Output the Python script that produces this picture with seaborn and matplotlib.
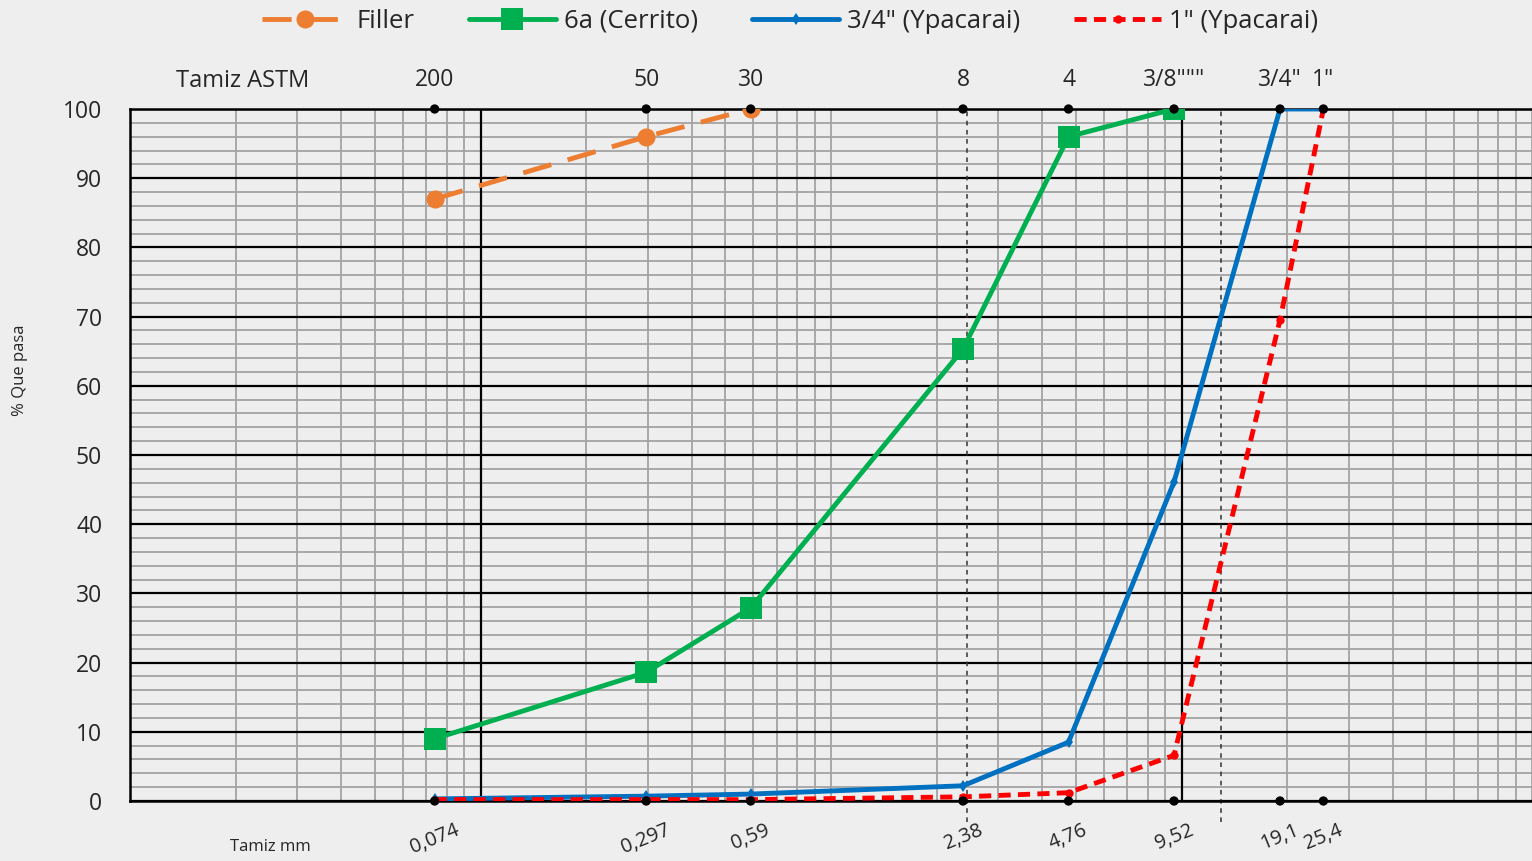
import numpy as np
import pandas as pd
import seaborn as sns
import matplotlib.pyplot as plt
from matplotlib.ticker import MultipleLocator, NullFormatter, LogLocator

# datos
tamiz_mm = [0.074, 0.297, 0.59, 2.38, 4.76, 9.52, 19.1, 25.4]
tamiz_mm_txt = ["0,074", "0,297", "0,59", "2,38", "4,76", "9,52", "19,1", "25,4"]
tamiz_astm = ["200", "50", "30", "8", "4", '3/8"""', '3/4"', '1"']

filler_mm = [0.074, 0.297, 0.59]
filler = [87, 96, 100]
cerrito_mm = [0.074, 0.297, 0.59, 2.38, 4.76, 9.52]
cerrito = [9.0, 18.6, 27.9, 65.3, 96.0, 100]
ypa34 = [0.3, 0.7, 1.0, 2.2, 8.5, 46.1, 100, 100]
ypa1 = [0.2, 0.2, 0.2, 0.6, 1.2, 6.6, 69.5, 100]

bg = "#eeeeee"
sns.set_theme(style="white", rc={"figure.facecolor": bg, "axes.facecolor": bg})
plt.rcParams["font.family"] = ["Open Sans", "DejaVu Sans"]

fig = plt.figure(figsize=(15.32, 8.61), dpi=100)
ax = fig.add_axes([130 / 1532, 60 / 861, 1 - 130 / 1532, 692 / 861])

ax.set_xscale("log")
ax.set_xlim(0.01, 100)
ax.set_ylim(0, 100)

# rejilla
ax.yaxis.set_major_locator(MultipleLocator(10))
ax.yaxis.set_minor_locator(MultipleLocator(2))
ax.xaxis.set_minor_locator(LogLocator(base=10, subs=np.arange(1, 10), numticks=50))
ax.xaxis.set_minor_formatter(NullFormatter())
ax.grid(which="minor", color="#a3a3a3", lw=1.3)
ax.grid(which="major", axis="y", color="black", lw=1.6)
ax.grid(which="major", axis="x", visible=False)
ax.set_axisbelow(True)
for v in [0.1, 10]:
    ax.axvline(v, color="black", lw=1.6, zorder=1)
ax.vlines([2.45, 13.0], -3, 100, colors="#333333", linestyles=(0, (3, 3)),
          lw=1.1, clip_on=False, zorder=1)

sns.lineplot(x=filler_mm, y=filler, ax=ax, color="#ED7D31", lw=3.5,
             linestyle=(0, (6, 3.5)), marker="o", markersize=13,
             markeredgewidth=0, label="Filler", zorder=3)
sns.lineplot(x=cerrito_mm, y=cerrito, ax=ax, color="#00B050", lw=3.5,
             marker="s", markersize=16, markeredgewidth=0,
             label="6a (Cerrito)", zorder=3)
sns.lineplot(x=tamiz_mm, y=ypa34, ax=ax, color="#0070C0", lw=3.5,
             marker="d", markersize=6, markeredgewidth=0,
             label='3/4" (Ypacarai)', zorder=3)
sns.lineplot(x=tamiz_mm, y=ypa1, ax=ax, color="#FF0000", lw=3.5,
             linestyle=(0, (2.5, 1.5)), marker="o", markersize=6,
             markeredgewidth=0, label='1" (Ypacarai)', zorder=4)

# puntos de tamices
for yy in [0, 100]:
    sns.scatterplot(x=tamiz_mm, y=[yy] * len(tamiz_mm), ax=ax, color="black",
                    s=45, edgecolor="none", clip_on=False, zorder=6,
                    legend=False)

ax.set_xticks(tamiz_mm)
ax.set_xticklabels(tamiz_mm_txt, rotation=22, fontsize=14.5)
ax.tick_params(axis="x", which="both", length=0, pad=14)
ax.tick_params(axis="y", which="both", length=0, pad=20, labelsize=16.5)
ax.set_xlabel("")
ax.set_ylabel("")

top = ax.secondary_xaxis("top")
top.set_xticks(tamiz_mm)
top.set_xticklabels(tamiz_astm, fontsize=16.5)
top.xaxis.set_minor_formatter(NullFormatter())
top.tick_params(axis="x", which="both", length=0, pad=12)
top.spines["top"].set_visible(False)

for s in ["left", "bottom", "top"]:
    ax.spines[s].set_color("black")
    ax.spines[s].set_linewidth(1.8)
ax.spines["right"].set_visible(False)

fig.text(243 / 1532, 1 - 81 / 861, "Tamiz ASTM", fontsize=17,
         ha="center", va="center")
fig.text(270 / 1532, 1 - 847 / 861, "Tamiz mm", fontsize=12,
         ha="center", va="center")
fig.text(20 / 1532, 1 - 370 / 861, "% Que pasa", fontsize=12,
         rotation=90, ha="center", va="center")

ax.legend(loc="center", bbox_to_anchor=(790 / 1532, 1 - 21 / 861),
          bbox_transform=fig.transFigure, ncol=4, frameon=False,
          fontsize=18.5, handlelength=3.4, columnspacing=2.1, handletextpad=0.3)

fig.savefig("out.png", dpi=100, facecolor=bg)
